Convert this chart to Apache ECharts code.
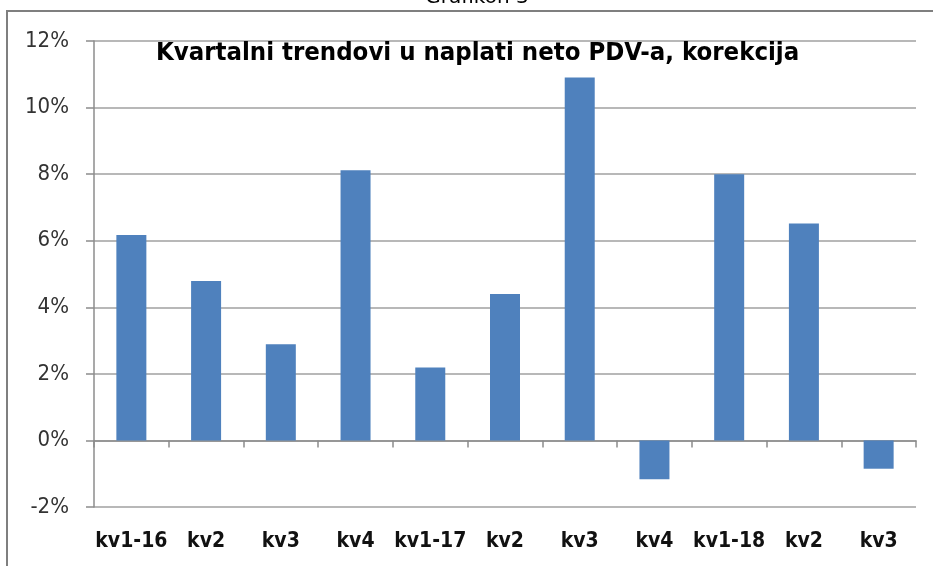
<!DOCTYPE html>
<html>
<head>
<meta charset="utf-8">
<title>Grafikon 3</title>
<script src="https://cdn.jsdelivr.net/npm/echarts@6/dist/echarts.min.js"></script>
<style>
  html, body { margin: 0; padding: 0; background: #fff; }
  #chart { width: 933px; height: 566px; }
</style>
</head>
<body>
<div id="chart"></div>
<script>
// kvartali (2016 - 2018)
const categories = ['kv1-16', 'kv2', 'kv3', 'kv4', 'kv1-17', 'kv2', 'kv3', 'kv4', 'kv1-18', 'kv2', 'kv3']
// rast naplate neto PDV-a, u %
const values = [6.17, 4.79, 2.89, 8.12, 2.19, 4.4, 10.9, -1.17, 8.0, 6.52, -0.85]
const yMin = -2
const yMax = 12
const yStep = 2

const narrow = "'Liberation Sans Narrow', 'DejaVu Sans Condensed', sans-serif"

const chart = echarts.init(document.getElementById('chart'))
chart.setOption({
  backgroundColor: '#fff',
  animation: false,
  graphic: [
    {
      type: 'rect',
      shape: { x: 7, y: 11, width: 960, height: 600 },
      style: { fill: 'none', stroke: '#7f7f7f', lineWidth: 2 }
    },
    {
      type: 'text',
      x: 477,
      y: 8,
      style: {
        text: 'Grafikon 3',
        fill: '#000',
        font: '20px "DejaVu Sans", sans-serif',
        textAlign: 'center',
        textVerticalAlign: 'bottom'
      }
    },
    {
      type: 'text',
      x: 156,
      y: 53,
      z: 10,
      style: {
        text: 'Kvartalni trendovi u naplati neto PDV-a, korekcija',
        fill: '#000',
        font: 'bold 25.5px ' + narrow,
        textAlign: 'left',
        textVerticalAlign: 'middle'
      }
    }
  ],
  grid: {
    left: 94,
    right: 17,
    top: 41,
    bottom: 59,
    outerBoundsMode: 'none'
  },
  xAxis: {
    type: 'category',
    data: categories,
    axisLine: {
      onZero: true,
      lineStyle: { color: '#8c8c8c', width: 1.5 }
    },
    axisTick: {
      show: true,
      interval: 0,
      length: 7,
      lineStyle: { color: '#8c8c8c', width: 1.5 }
    },
    axisLabel: {
      interval: 0,
      margin: 24,
      color: '#111',
      fontFamily: narrow,
      fontWeight: 'bold',
      fontSize: 21
    }
  },
  yAxis: {
    type: 'value',
    min: yMin,
    max: yMax,
    interval: yStep,
    axisLine: {
      show: true,
      lineStyle: { color: '#8c8c8c', width: 1.5 }
    },
    axisTick: {
      show: true,
      length: 8,
      lineStyle: { color: '#8c8c8c', width: 1.5 }
    },
    splitLine: {
      lineStyle: { color: '#a0a0a0', width: 1.5 }
    },
    axisLabel: {
      margin: 25,
      color: '#333',
      fontFamily: narrow,
      fontSize: 22,
      formatter: '{value}%'
    }
  },
  series: [
    {
      type: 'bar',
      data: values,
      barWidth: 30,
      itemStyle: { color: '#4f81bd' }
    }
  ]
})
</script>
</body>
</html>
